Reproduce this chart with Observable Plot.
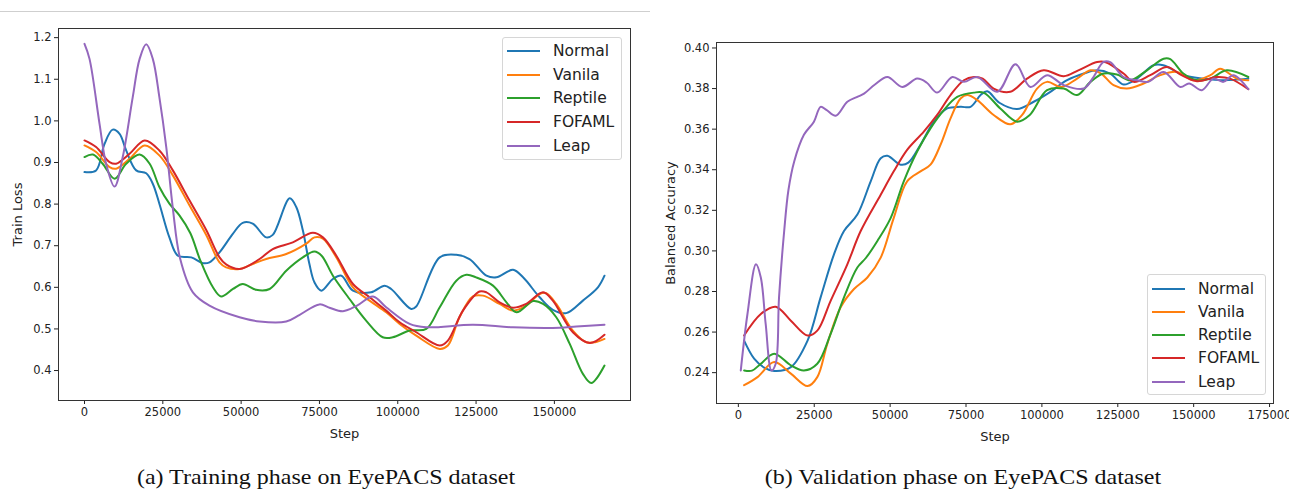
<!DOCTYPE html>
<html><head><meta charset="utf-8">
<script src="https://cdn.jsdelivr.net/npm/d3@7"></script>
<script src="https://cdn.jsdelivr.net/npm/@observablehq/plot@0.6"></script>
<style>
body{margin:0;background:#fff;width:1289px;height:491px;position:relative;overflow:hidden;font-family:"DejaVu Sans",sans-serif;}
.chart{position:absolute;top:0;}
.chart text.biglabel{font-size:13px !important;}
.legend{position:absolute;background:#fff;border:1px solid #d6d6d6;border-radius:3px;box-sizing:border-box;}
.legend .row{position:absolute;left:0;height:20px;display:flex;align-items:center;font-size:15.5px;color:#222;white-space:nowrap;}
.legend .sw{display:inline-block;height:2px;width:33px;}
.caption{position:absolute;font-family:"Liberation Serif",serif;font-size:22px;color:#111;white-space:nowrap;transform:translateX(-50%) scaleX(1.09);}
.topline{position:absolute;left:0;top:11px;width:650px;height:1px;background:#cfcfcf;}
</style></head><body>
<div class="topline"></div>
<div id="left" class="chart" style="left:0"></div>
<div id="right" class="chart" style="left:645px"></div>
<script>
const seriesNames = ["Normal", "Vanila", "Reptile", "FOFAML", "Leap"];
const seriesColors = ["#1f77b4", "#ff7f0e", "#2ca02c", "#d62728", "#9467bd"];

// Training phase (step, train loss)
const trainNormal = [[0,0.877],[3700,0.881],[6400,0.945],[9000,0.979],[11200,0.969],[13300,0.929],[16500,0.881],[19700,0.874],[21800,0.849],[23900,0.801],[27100,0.72],[29800,0.676],[34100,0.672],[37800,0.658],[39900,0.66],[43100,0.684],[47400,0.729],[50500,0.755],[53700,0.753],[58000,0.72],[60100,0.726],[65500,0.814],[67600,0.793],[69700,0.737],[71800,0.656],[73400,0.612],[75600,0.592],[79300,0.62],[82000,0.628],[85700,0.592],[91500,0.588],[95800,0.604],[97900,0.596],[104300,0.548],[105900,0.554],[113400,0.672],[118700,0.678],[122900,0.668],[128300,0.628],[131500,0.624],[136800,0.642],[140000,0.624],[145300,0.576],[149500,0.546],[153800,0.538],[159100,0.568],[163900,0.6],[166000,0.628]];
const trainVanila = [[0,0.941],[3700,0.925],[8000,0.889],[10100,0.885],[14400,0.909],[19200,0.941],[23900,0.917],[28200,0.869],[33500,0.797],[38900,0.725],[43100,0.66],[45200,0.648],[49500,0.644],[53700,0.656],[58000,0.668],[64400,0.68],[70800,0.705],[73400,0.72],[76100,0.717],[80400,0.672],[85700,0.6],[91000,0.568],[96300,0.54],[100600,0.512],[105900,0.484],[113400,0.452],[116000,0.46],[119700,0.528],[124000,0.578],[127200,0.58],[132500,0.56],[136800,0.544],[141000,0.556],[145300,0.584],[147400,0.586],[150600,0.56],[155900,0.496],[160200,0.468],[163000,0.468],[166000,0.476]];
const trainReptile = [[0,0.913],[2700,0.919],[5800,0.897],[9600,0.861],[13300,0.897],[17600,0.919],[20800,0.897],[23900,0.841],[27100,0.801],[30300,0.773],[33800,0.73],[37000,0.664],[41000,0.6],[43600,0.578],[47400,0.596],[50500,0.608],[54800,0.594],[59100,0.596],[64400,0.64],[69700,0.672],[73400,0.686],[75700,0.676],[79300,0.628],[84600,0.572],[89900,0.52],[95200,0.48],[98400,0.48],[103800,0.496],[109100,0.5],[113400,0.552],[118700,0.616],[121900,0.63],[125000,0.624],[130400,0.604],[134700,0.564],[137900,0.54],[143200,0.567],[146400,0.56],[150600,0.528],[154900,0.464],[159100,0.392],[161800,0.37],[166000,0.412]];
const trainFOFAML = [[0,0.953],[3700,0.937],[8000,0.901],[10100,0.897],[14400,0.921],[19200,0.953],[23900,0.929],[28200,0.881],[33500,0.809],[38900,0.737],[43100,0.672],[45200,0.655],[49500,0.644],[55900,0.668],[60100,0.692],[66500,0.708],[72900,0.731],[76100,0.72],[80400,0.676],[85700,0.608],[91000,0.576],[96300,0.544],[100600,0.516],[105900,0.492],[113400,0.46],[116000,0.472],[120800,0.544],[126100,0.59],[128300,0.588],[132500,0.564],[136800,0.551],[141000,0.56],[146400,0.588],[149500,0.568],[155900,0.492],[161300,0.466],[166000,0.486]];
const trainLeap = [[0,1.185],[1600,1.149],[4800,0.993],[6900,0.897],[9600,0.842],[12200,0.913],[15400,1.057],[17600,1.149],[19700,1.184],[21800,1.149],[23900,1.057],[26100,0.937],[28200,0.79],[30500,0.67],[34600,0.588],[39900,0.556],[49500,0.528],[55900,0.518],[64400,0.518],[68700,0.534],[75000,0.559],[78200,0.551],[82500,0.5425],[87000,0.556],[92100,0.578],[96300,0.552],[103800,0.512],[109100,0.504],[124000,0.51],[136800,0.504],[151700,0.503],[157000,0.506],[166000,0.51]];

// Validation phase (step, balanced accuracy)
const valNormal = [[1900,0.2558],[5200,0.2469],[8500,0.2425],[11800,0.2408],[17300,0.2427],[22800,0.2558],[27100,0.2771],[31500,0.2983],[34800,0.3098],[39200,0.3179],[43600,0.3343],[46900,0.3457],[49100,0.3469],[53500,0.3425],[56000,0.3435],[60000,0.3523],[64400,0.3637],[68800,0.3702],[73200,0.371],[76500,0.371],[79800,0.3768],[82000,0.3787],[86000,0.373],[91800,0.3699],[97300,0.3735],[102800,0.3784],[108300,0.3841],[113800,0.3874],[118200,0.389],[122500,0.3874],[126900,0.382],[131300,0.3849],[136800,0.3915],[140000,0.3915],[146600,0.3866],[153200,0.3849],[160000,0.3841],[168000,0.3849]];
const valVanila = [[1900,0.2338],[6300,0.2378],[11800,0.2452],[17300,0.2395],[22800,0.2334],[26000,0.2378],[29300,0.2542],[33700,0.2722],[38100,0.2812],[42500,0.2869],[46900,0.2967],[51200,0.3163],[55600,0.3343],[60000,0.3392],[63300,0.3425],[66600,0.3523],[69900,0.3653],[73200,0.3751],[75400,0.3768],[78700,0.3743],[84100,0.367],[89600,0.3624],[93500,0.367],[98400,0.38],[101700,0.3833],[106500,0.3808],[111600,0.3849],[116000,0.389],[119500,0.3874],[123600,0.3817],[128000,0.38],[133500,0.3825],[139000,0.3866],[144500,0.3882],[150000,0.3841],[155500,0.3866],[158700,0.3898],[164200,0.3849],[168000,0.3841]];
const valReptile = [[1900,0.2411],[4500,0.241],[7400,0.2444],[11800,0.2493],[17300,0.2436],[21600,0.2411],[26000,0.2444],[30400,0.2591],[34800,0.2771],[39200,0.2918],[42000,0.2965],[45800,0.3049],[50200,0.3163],[54500,0.3343],[58900,0.349],[63300,0.3604],[67700,0.3694],[72100,0.3759],[77600,0.378],[80900,0.3779],[86300,0.3702],[91800,0.3637],[96000,0.367],[101700,0.3792],[107200,0.38],[111600,0.3768],[116000,0.3833],[120300,0.3874],[124700,0.3869],[129100,0.3841],[134600,0.389],[140100,0.3947],[142300,0.3945],[146600,0.3874],[151100,0.3841],[155500,0.3849],[160900,0.389],[168000,0.3857]];
const valFOFAML = [[1900,0.2583],[7400,0.2689],[12300,0.2725],[17300,0.2656],[22800,0.2583],[26000,0.2607],[30400,0.2754],[35900,0.2934],[40300,0.3098],[46900,0.3277],[51200,0.3392],[55600,0.3498],[61100,0.3588],[65500,0.367],[69900,0.3768],[74300,0.3841],[77600,0.3857],[80500,0.3849],[84100,0.38],[89600,0.3784],[95100,0.3849],[100600,0.389],[107200,0.3861],[112000,0.389],[118200,0.3931],[121000,0.393],[126900,0.3874],[130200,0.3833],[135700,0.3866],[141200,0.3906],[146000,0.3866],[151100,0.3836],[157600,0.3857],[162000,0.3849],[168000,0.3797]];
const valLeap = [[800,0.2411],[3000,0.2689],[5800,0.2934],[7400,0.2869],[9000,0.264],[10900,0.2411],[12300,0.2444],[13400,0.2771],[15100,0.3098],[16500,0.33],[18400,0.3441],[21600,0.3572],[24900,0.3637],[27100,0.371],[29000,0.3695],[32100,0.3666],[35900,0.3735],[39200,0.3759],[41400,0.3775],[45000,0.382],[49100,0.3857],[54000,0.3808],[58900,0.3849],[62000,0.383],[65500,0.378],[70500,0.3857],[74300,0.3833],[78700,0.3857],[85300,0.3784],[91300,0.392],[96200,0.3808],[101700,0.3866],[107200,0.3817],[113800,0.38],[117000,0.3857],[120300,0.3931],[122500,0.393],[126900,0.3857],[131300,0.3841],[135000,0.3833],[140100,0.3882],[145600,0.3808],[148500,0.3825],[152700,0.3792],[156500,0.3849],[159800,0.3833],[163100,0.3866],[168000,0.3797]];

const trainXTicks = [0, 25000, 50000, 75000, 100000, 125000, 150000];
const trainYTicks = [0.4, 0.5, 0.6, 0.7, 0.8, 0.9, 1.0, 1.1, 1.2];
const valXTicks = [0, 25000, 50000, 75000, 100000, 125000, 150000, 175000];
const valYTicks = [0.24, 0.26, 0.28, 0.30, 0.32, 0.34, 0.36, 0.38, 0.40];
const captions = ["(a) Training phase on EyePACS dataset", "(b) Validation phase on EyePACS dataset"];

function toRows(lists) {
  const rows = [];
  lists.forEach((list, i) => list.forEach(([step, value]) => rows.push({series: seriesNames[i], step, value})));
  return rows;
}
const trainRows = toRows([trainNormal, trainVanila, trainReptile, trainFOFAML, trainLeap]);
const valRows = toRows([valNormal, valVanila, valReptile, valFOFAML, valLeap]);

const baseStyle = {fontFamily: "DejaVu Sans", fontSize: "11.5px", color: "#222", background: "transparent", overflow: "visible"};

function chart(rows, o) {
  const svg = Plot.plot({
    width: o.width, height: 445,
    marginLeft: o.ml, marginRight: o.mr, marginTop: o.mt, marginBottom: o.mb,
    style: baseStyle,
    color: {domain: seriesNames, range: seriesColors},
    x: {domain: o.xd, ticks: o.xt, tickFormat: d3.format("d"), tickSize: 4, tickPadding: 3, label: "Step", labelAnchor: "center", labelArrow: "none", labelOffset: 37},
    y: {domain: o.yd, ticks: o.yt, tickFormat: o.yf, tickSize: 4, tickPadding: 3, label: o.ylabel, labelAnchor: "center", labelArrow: "none", labelOffset: o.ylo},
    marks: [
      Plot.line(rows, {x: "step", y: "value", stroke: "series", z: "series", curve: "catmull-rom", strokeWidth: 2}),
      Plot.frame({stroke: "#333", strokeWidth: 1})
    ]
  });
  svg.querySelectorAll("text").forEach(t => {
    const s = t.textContent;
    if (s.includes("Step") || s.includes(o.ylabel)) {
      t.classList.add("biglabel");
      t.setAttribute("font-size", "13");
      t.style.setProperty("font-size", "13px", "important");
      if (t.parentNode && t.parentNode.setAttribute) t.parentNode.setAttribute("font-size", "13");
    }
  });
  return svg;
}

document.getElementById("left").append(chart(trainRows, {
  width: 640, ml: 58, mr: 10, mt: 28, mb: 45,
  xd: [-8300, 174300], xt: trainXTicks, yd: [0.328, 1.222], yt: trainYTicks, yf: d3.format(".1f"),
  ylabel: "Train Loss", ylo: 46
}));
document.getElementById("right").append(chart(valRows, {
  width: 644, ml: 71, mr: 16, mt: 42, mb: 42,
  xd: [-7200, 176300], xt: valXTicks, yd: [0.2248, 0.4027], yt: valYTicks, yf: d3.format(".2f"),
  ylabel: "Balanced Accuracy", ylo: 51
}));

function legend(left, top, w, h, spacing, first) {
  const box = document.createElement("div");
  box.className = "legend";
  Object.assign(box.style, {left: left + "px", top: top + "px", width: w + "px", height: h + "px"});
  seriesNames.forEach((name, i) => {
    const row = document.createElement("div");
    row.className = "row";
    row.style.top = (first + i * spacing - 10) + "px";
    row.style.left = "4px";
    const sw = document.createElement("span");
    sw.className = "sw";
    sw.style.background = seriesColors[i];
    sw.style.marginRight = "13px";
    row.append(sw, document.createTextNode(name));
    box.append(row);
  });
  document.body.append(box);
}
legend(502, 37, 120, 123, 23.7, 13);
legend(1147, 274, 119, 121, 23.3, 13.5);

captions.forEach((t, i) => {
  const c = document.createElement("div");
  c.className = "caption";
  c.textContent = t;
  c.style.left = (i === 0 ? 326 : 963) + "px";
  c.style.top = "464px";
  document.body.append(c);
});
</script>
</body></html>
